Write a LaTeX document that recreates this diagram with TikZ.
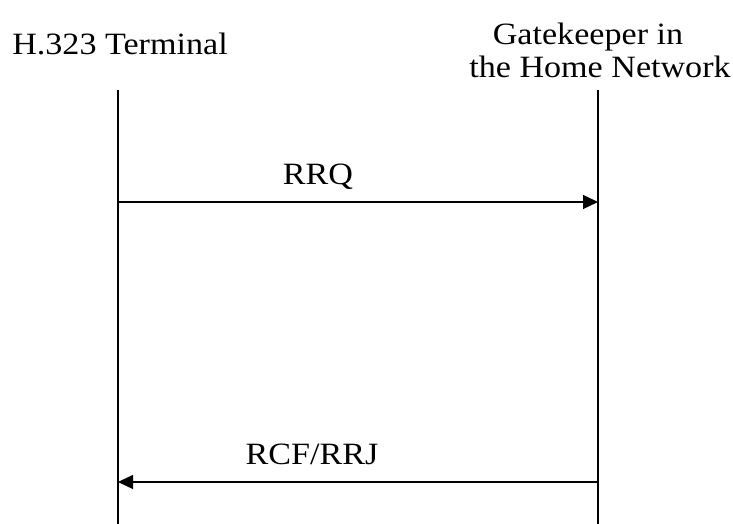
\documentclass[tikz,border=0pt]{standalone}
\usepackage{fontspec}
\setmainfont{Liberation Serif}
\usetikzlibrary{arrows.meta}
\begin{document}
\begin{tikzpicture}[x=1pt,y=1pt,
  lbl/.style={font=\fontsize{31}{34}\selectfont, inner sep=0pt, anchor=base, xscale=1.1, transform shape},
  life/.style={line width=1.3pt},
  msg/.style={line width=1.3pt, -{Triangle[length=15pt,width=14pt]}}]
\useasboundingbox (0,0) rectangle (733,524);
\node[lbl] (t) at (120,469) {H.323 Terminal};
\node[lbl] (g1) at (588,479) {Gatekeeper in};
\node[lbl] (g2) at (600,446) {the Home Network};
\coordinate (ta) at (118,434);
\coordinate (tb) at (118,0);
\coordinate (ga) at (598,434);
\coordinate (gb) at (598,0);
\draw[life] (ta) -- (tb);
\draw[life] (ga) -- (gb);
\coordinate (r1) at (118,322);
\coordinate (r2) at (598,322);
\draw[msg] (r1) -- (r2);
\node[lbl] (rrq) at (318,339) {RRQ};
\coordinate (c1) at (598,42);
\coordinate (c2) at (118,42);
\draw[msg] (c1) -- (c2);
\node[lbl] (rcf) at (312,59) {RCF/RRJ};
\end{tikzpicture}
\end{document}
